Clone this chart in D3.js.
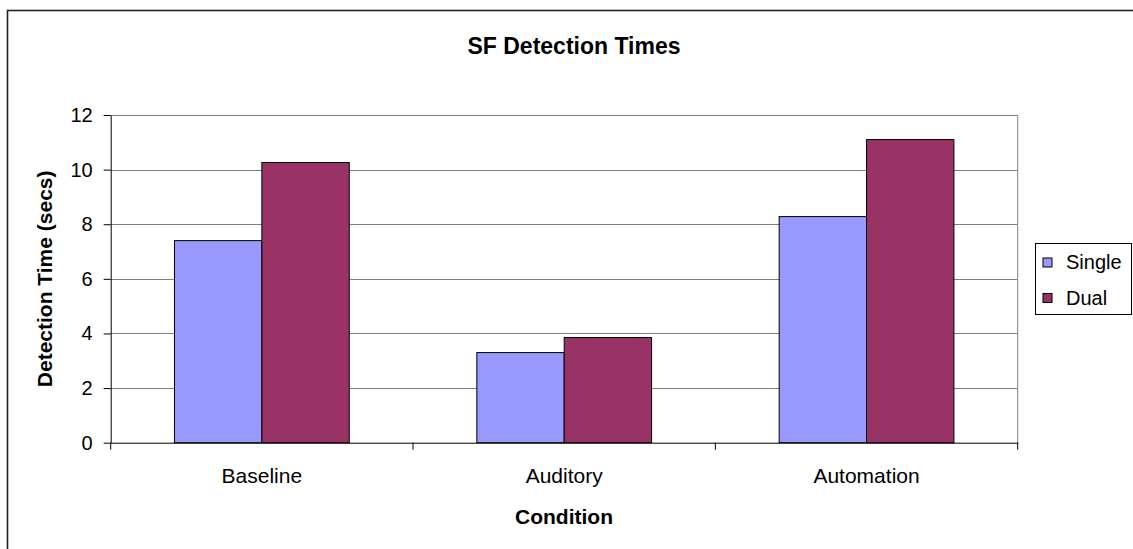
<!DOCTYPE html>
<html>
<head>
<meta charset="utf-8">
<script src="https://cdn.jsdelivr.net/npm/d3@7"></script>
<style>
  html, body { margin: 0; padding: 0; background: #fff; }
  svg { display: block; font-family: "Liberation Sans", Arial, sans-serif; }
</style>
</head>
<body>
<svg id="chart" width="1133" height="549"></svg>
<script>
const categories = ["Baseline", "Auditory", "Automation"];
const seriesNames = ["Single", "Dual"];
const singleValues = [7.40, 3.30, 8.28];
const dualValues = [10.26, 3.85, 11.10];
const yTicks = [0, 2, 4, 6, 8, 10, 12];
const colors = ["#9999FF", "#993366"];

const svg = d3.select("#chart");
const W = 1133, H = 549;
const plot = { left: 110.7, right: 1017.7, top: 115, bottom: 442.7 };

// outer chart border (extends past the picture on right/bottom)
svg.append("rect")
  .attr("x", 7.5).attr("y", 10.5)
  .attr("width", 1140).attr("height", 560)
  .attr("fill", "#fff").attr("stroke", "#222").attr("stroke-width", 1.6);

const x0 = d3.scaleBand().domain(categories).range([plot.left, plot.right]).padding(0);
const gapRatio = 1.46;
const barW = x0.bandwidth() / (2 + gapRatio);
const x1 = d3.scaleBand().domain(seriesNames).range([0, 2 * barW]);
const y = d3.scaleLinear().domain([0, 12]).range([plot.bottom, plot.top]);

// gridlines
svg.append("g").selectAll("line").data(yTicks.filter(d => d > 0)).join("line")
  .attr("x1", plot.left).attr("x2", plot.right)
  .attr("y1", d => Math.round(y(d)) + 0.5).attr("y2", d => Math.round(y(d)) + 0.5)
  .attr("stroke", "#808080").attr("stroke-width", 1);

// right plot border
svg.append("line")
  .attr("x1", plot.right).attr("x2", plot.right)
  .attr("y1", plot.top).attr("y2", plot.bottom)
  .attr("stroke", "#808080").attr("stroke-width", 1);

const rows = categories.map((c, i) => ({ cat: c, vals: [singleValues[i], dualValues[i]] }));

// bars
const groups = svg.append("g").selectAll("g").data(rows).join("g")
  .attr("transform", d => `translate(${x0(d.cat) + (x0.bandwidth() - 2 * barW) / 2},0)`);
groups.selectAll("rect").data(d => d.vals.map((v, k) => ({ k, v }))).join("rect")
  .attr("x", d => x1(seriesNames[d.k]))
  .attr("y", d => y(d.v))
  .attr("width", x1.bandwidth())
  .attr("height", d => y(0) - y(d.v))
  .attr("fill", d => colors[d.k])
  .attr("stroke", "#000").attr("stroke-width", 1);

// y axis
const yAxis = d3.axisLeft(y).tickValues(yTicks).tickSize(7).tickPadding(11).tickSizeOuter(0);
const gy = svg.append("g").attr("transform", `translate(${plot.left},0)`).call(yAxis);
gy.select(".domain").attr("stroke", "#000");
gy.selectAll(".tick line").attr("stroke", "#000");
gy.selectAll("text").attr("font-size", 20).attr("fill", "#000")
  .attr("font-family", "Liberation Sans, Arial, sans-serif");

// x axis
const xAxis = d3.axisBottom(x0).tickSize(0).tickPadding(0);
const gx = svg.append("g").attr("transform", `translate(0,${plot.bottom})`).call(xAxis);
gx.select(".domain").attr("stroke", "#000");
gx.selectAll("text").attr("font-size", 21).attr("fill", "#000").attr("dy", null)
  .attr("y", 40)
  .attr("font-family", "Liberation Sans, Arial, sans-serif");
// category boundary ticks
const bounds = categories.map(c => x0(c)).concat([plot.right]);
svg.append("g").selectAll("line").data(bounds).join("line")
  .attr("x1", d => d).attr("x2", d => d)
  .attr("y1", plot.bottom).attr("y2", plot.bottom + 7)
  .attr("stroke", "#000");

// title
svg.append("text").attr("x", 574).attr("y", 54).attr("text-anchor", "middle")
  .attr("font-size", 23).attr("font-weight", "bold").text("SF Detection Times");

// axis titles
svg.append("text").attr("x", 564).attr("y", 524).attr("text-anchor", "middle")
  .attr("font-size", 21).attr("font-weight", "bold").text("Condition");
svg.append("text").attr("transform", `translate(52,${(plot.top + plot.bottom) / 2}) rotate(-90)`)
  .attr("text-anchor", "middle")
  .attr("font-size", 21).attr("font-weight", "bold").text("Detection Time (secs)");

// legend
const lg = svg.append("g");
lg.append("rect").attr("x", 1035.5).attr("y", 243.5).attr("width", 96).attr("height", 71)
  .attr("fill", "#fff").attr("stroke", "#000").attr("stroke-width", 1);
const items = lg.selectAll("g.item").data(seriesNames).join("g").attr("class", "item")
  .attr("transform", (d, i) => `translate(0,${i * 35.5})`);
items.append("rect").attr("x", 1043).attr("y", 258).attr("width", 9).attr("height", 9)
  .attr("fill", (d, i) => colors[i]).attr("stroke", "#000");
items.append("text").attr("x", 1066).attr("y", 269).attr("font-size", 20).text(d => d);
</script>
</body>
</html>
